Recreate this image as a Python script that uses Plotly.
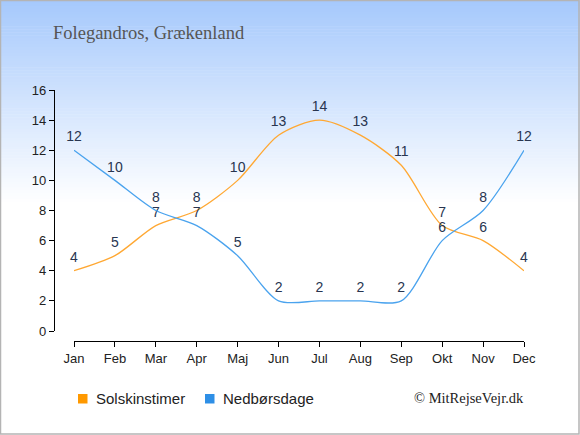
import plotly.graph_objects as go

months = ['Jan', 'Feb', 'Mar', 'Apr', 'Maj', 'Jun', 'Jul', 'Aug', 'Sep', 'Okt', 'Nov', 'Dec']
sun_hours = [4, 5, 7, 8, 10, 13, 14, 13, 11, 7, 6, 4]
rain_days = [12, 10, 8, 7, 5, 2, 2, 2, 2, 6, 8, 12]
series_names = ['Solskinstimer', 'Nedbørsdage']

W, H = 580, 435
L, R, T, B = 54, 56, 90, 94
pw, ph = W - L - R, H - T - B


def px_x(p):
    return (p - L) / pw


def px_y(p):
    return (H - B - p) / ph


SUN = '#ffa833'
RAIN = '#4aa3ee'
LABEL = '#283550'

fig = go.Figure()

for vals, col in [(sun_hours, SUN), (rain_days, RAIN)]:
    fig.add_trace(go.Scatter(
        x=months, y=vals, mode='lines+markers+text', text=[str(v) for v in vals],
        textposition='top center', textfont=dict(family='Liberation Sans, Arial', size=14, color=LABEL),
        marker=dict(size=7, color='rgba(0,0,0,0)'),
        line=dict(color=col, width=1.3, shape='spline', smoothing=0.8),
        showlegend=False, cliponaxis=False, hoverinfo='skip'))

# background gradient
shapes = []
top = (166, 201, 252)
fade_end = 205
n = 70
for i in range(n):
    y0 = fade_end * i / n
    y1 = fade_end * (i + 1) / n
    t = i / (n - 1)
    c = tuple(int(round(top[k] + (255 - top[k]) * t)) for k in range(3))
    shapes.append(dict(type='rect', xref='paper', yref='paper', layer='below',
                       x0=px_x(0), x1=px_x(W), y0=px_y(y1 + 0.5), y1=px_y(y0),
                       fillcolor='rgb(%d,%d,%d)' % c, line=dict(width=0)))
shapes.append(dict(type='rect', xref='paper', yref='paper', layer='above',
                   x0=px_x(0.5), x1=px_x(W - 1), y0=px_y(H - 1), y1=px_y(0.5),
                   line=dict(color='#b4b4b4', width=1.5)))

annotations = [
    dict(text='Folegandros, Grækenland', xref='paper', yref='paper', x=px_x(51), y=px_y(33),
         xanchor='left', yanchor='middle', showarrow=False,
         font=dict(family='Liberation Serif, Georgia, serif', size=18.5, color='#555')),
    dict(text='© MitRejseVejr.dk', xref='paper', yref='paper', x=px_x(526), y=px_y(398),
         xanchor='right', yanchor='middle', showarrow=False,
         font=dict(family='Liberation Serif, serif', size=14.5, color='#222')),
]

# legend drawn as squares + text
for name, col, sx in [(series_names[0], '#ff9900', 78), (series_names[1], '#2e8fe6', 205)]:
    shapes.append(dict(type='rect', xref='paper', yref='paper', layer='above',
                       x0=px_x(sx), x1=px_x(sx + 9.5), y0=px_y(403.5), y1=px_y(394),
                       fillcolor=col, line=dict(width=0)))
    annotations.append(dict(text=name, xref='paper', yref='paper', x=px_x(sx + 16), y=px_y(398),
                            xanchor='left', yanchor='middle', showarrow=False,
                            font=dict(family='Liberation Sans, Arial', size=15, color='#222')))

fig.update_layout(
    width=W, height=H,
    margin=dict(l=L, r=R, t=T, b=B, pad=0),
    paper_bgcolor='white', plot_bgcolor='rgba(0,0,0,0)',
    font=dict(family='Liberation Sans, Arial', size=13, color='#222'),
    shapes=shapes, annotations=annotations, showlegend=False,
    xaxis=dict(domain=[px_x(74), 1], range=[0, 11], anchor='free', position=0,
               showgrid=False, zeroline=False, showline=True, linecolor='black', linewidth=1.2,
               ticks='outside', ticklen=5, tickcolor='black', tickfont=dict(size=13, color='#222'),
               fixedrange=True),
    yaxis=dict(domain=[px_y(331), 1], range=[0, 16], dtick=2, anchor='free', position=0,
               showgrid=False, zeroline=False, showline=True, linecolor='black', linewidth=1.2,
               ticks='outside', ticklen=5, tickcolor='black', tickfont=dict(size=13, color='#222'),
               fixedrange=True),
)

fig.write_html('out.html', config={'displayModeBar': False},
               post_script="document.body.style.margin='0';")
